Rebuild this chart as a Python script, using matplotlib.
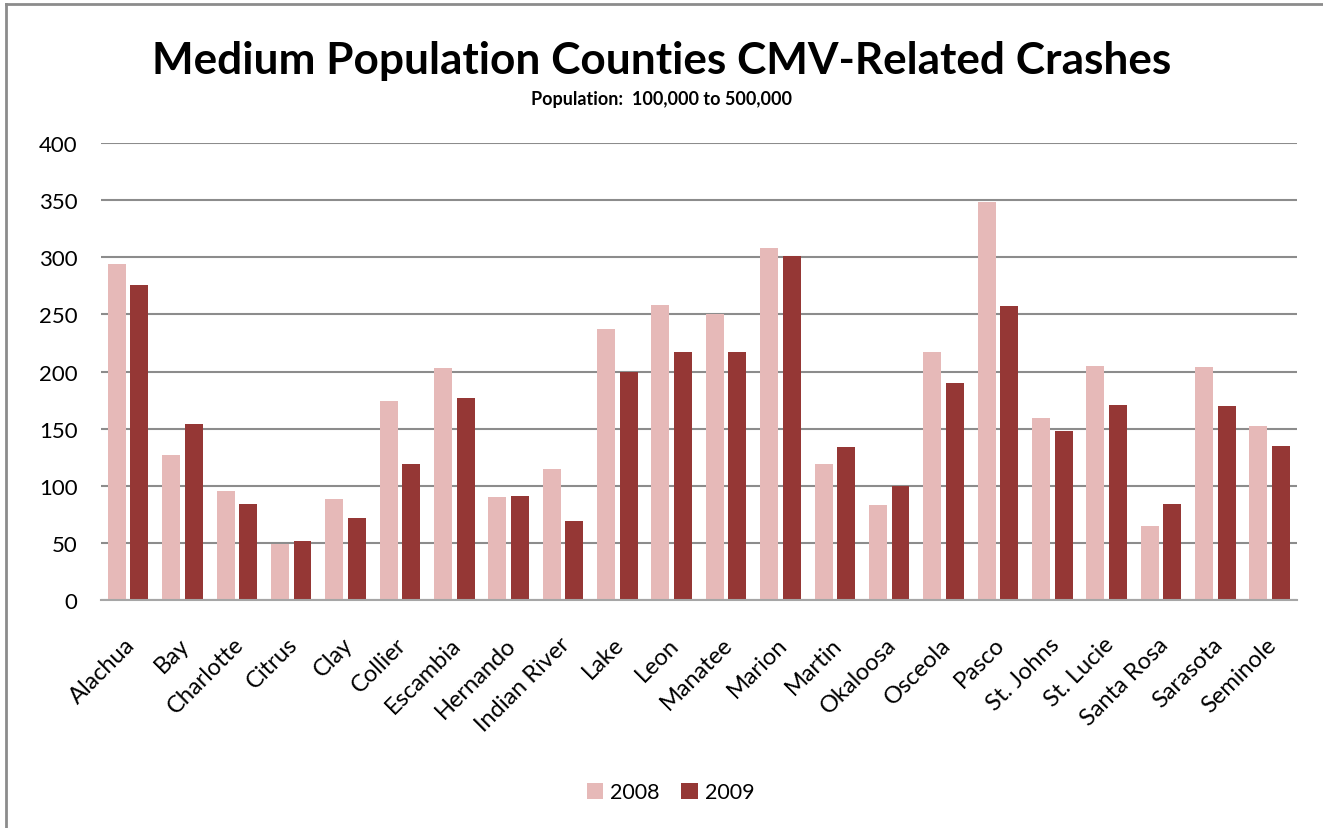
import matplotlib.pyplot as plt
import matplotlib.transforms as mtransforms
import numpy as np

# Datos
condados = ['Alachua', 'Bay', 'Charlotte', 'Citrus', 'Clay', 'Collier', 'Escambia',
            'Hernando', 'Indian River', 'Lake', 'Leon', 'Manatee', 'Marion', 'Martin',
            'Okaloosa', 'Osceola', 'Pasco', 'St. Johns', 'St. Lucie', 'Santa Rosa',
            'Sarasota', 'Seminole']
crashes_2008 = [294, 127, 95, 49, 88, 174, 203, 90, 115, 237, 258, 250, 308, 119,
                83, 217, 348, 159, 205, 65, 204, 152]
crashes_2009 = [276, 154, 84, 52, 72, 119, 177, 91, 69, 200, 217, 217, 301, 134,
                100, 190, 257, 148, 171, 84, 170, 135]
anios = ['2008', '2009']
ticks_y = [0, 50, 100, 150, 200, 250, 300, 350, 400]

color_2008 = '#E6B9B8'
color_2009 = '#953735'

plt.rcParams['font.family'] = ['Lato', 'DejaVu Sans']

fig = plt.figure(figsize=(13.23, 8.29), dpi=100)
ax = fig.add_axes([0.0763, 0.275, 0.904, 0.5513])

x = np.arange(len(condados))
ancho = 0.33
ax.bar(x - 0.208, crashes_2008, ancho, color=color_2008, label=anios[0], zorder=3)
ax.bar(x + 0.208, crashes_2009, ancho, color=color_2009, label=anios[1], zorder=3)

ax.set_xlim(-0.5, len(condados) - 0.5)
ax.set_ylim(0, 400)
ax.set_yticks(ticks_y)
ax.set_yticklabels([str(t) for t in ticks_y], fontsize=16)
ax.yaxis.grid(True, color='#8c8c8c', linewidth=1.5, zorder=0)
ax.tick_params(axis='y', length=0, pad=17)
ax.tick_params(axis='x', length=0, pad=24)

ax.set_xticks(x)
ax.set_xticklabels(condados, rotation=45, ha='right', rotation_mode='anchor', fontsize=17)
# desplazar las etiquetas un poco (como en Excel)
desplaz = mtransforms.ScaledTranslation(-4 / 100, 0, fig.dpi_scale_trans)
for lbl in ax.get_xticklabels():
    lbl.set_transform(lbl.get_transform() + desplaz)

for lado in ['top', 'right', 'left']:
    ax.spines[lado].set_visible(False)
ax.spines['bottom'].set_color('#a6a6a6')
ax.spines['bottom'].set_linewidth(1.5)
ax.spines['bottom'].set_zorder(4)

fig.text(0.5, 0.926, 'Medium Population Counties CMV-Related Crashes',
         ha='center', va='center', fontsize=31.8, fontweight='bold')
fig.text(0.5, 0.880, 'Population:  100,000 to 500,000',
         ha='center', va='center', fontsize=13, fontweight='bold')

fig.legend(loc='center', bbox_to_anchor=(0.507, 0.043), ncol=2, frameon=False,
           fontsize=15.5, handlelength=0.75, handleheight=0.75, handletextpad=0.35,
           columnspacing=1.0)

# marco del grafico (solo arriba e izquierda visibles)
fig.add_artist(plt.Line2D([0.0045, 1], [0.9945, 0.9945], color='#8c8c8c', linewidth=2,
                          transform=fig.transFigure))
fig.add_artist(plt.Line2D([0.0045, 0.0045], [0, 0.9945], color='#8c8c8c', linewidth=2,
                          transform=fig.transFigure))

fig.savefig('out.png', dpi=100)
